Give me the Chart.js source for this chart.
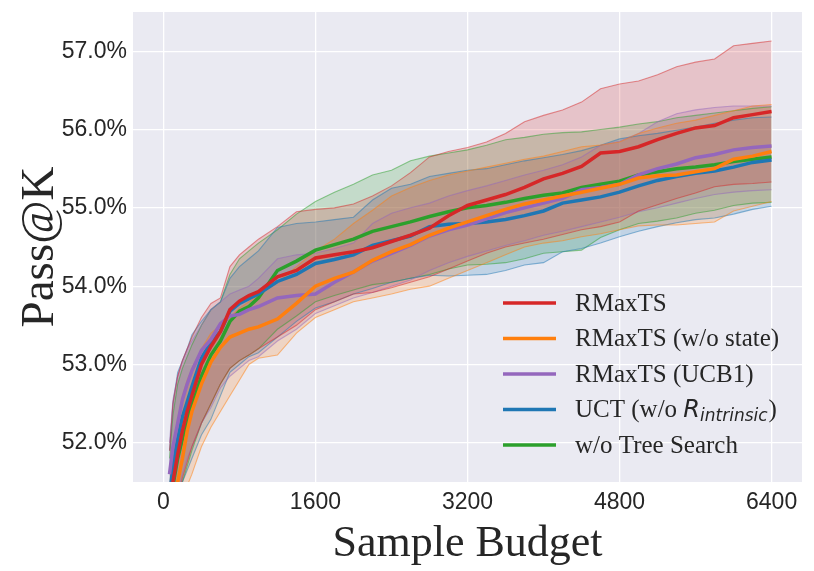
<!DOCTYPE html>
<html>
<head>
<meta charset="utf-8">
<script src="https://cdn.jsdelivr.net/npm/chart.js@4.4.1/dist/chart.umd.min.js"></script>
<style>
  html, body { margin: 0; padding: 0; background: #ffffff; }
  #wrap { width: 814px; height: 571px; }
</style>
</head>
<body>
<div id="wrap"><canvas id="passChart" width="814" height="571"></canvas></div>
<script>
// sample budget at which each value was read
var budget = [64, 100, 150, 200, 250, 300, 400, 500, 600, 700, 800, 900, 1000, 1200, 1400, 1600, 1800, 2000, 2200, 2400,
              2600, 2800, 3000, 3200, 3400, 3600, 3800, 4000, 4200, 4400, 4600, 4800, 5000, 5200, 5400, 5600, 5800, 6000, 6200, 6400];

var xTicks = [0, 1600, 3200, 4800, 6400];
var yTicks = [52, 53, 54, 55, 56, 57];

// RMaxTS
var rmaxMean = [51.2, 51.5, 51.85, 52.15, 52.4, 52.6, 53.0, 53.23, 53.42, 53.7, 53.81, 53.88, 53.93, 54.12, 54.2, 54.36, 54.4, 54.44, 54.49, 54.57,
                54.65, 54.74, 54.9, 55.03, 55.1, 55.17, 55.26, 55.37, 55.44, 55.53, 55.7, 55.72, 55.78, 55.87, 55.95, 56.02, 56.05, 56.15, 56.19, 56.23];
var rmaxHi = [51.9, 52.5, 52.85, 53.05, 53.2, 53.35, 53.6, 53.78, 53.85, 54.25, 54.4, 54.5, 54.6, 54.76, 54.95, 54.98, 55.0, 55.05, 55.15, 55.28,
              55.45, 55.65, 55.72, 55.77, 55.84, 55.95, 56.1, 56.18, 56.25, 56.35, 56.52, 56.58, 56.62, 56.7, 56.8, 56.86, 56.9, 57.07, 57.1, 57.13];
var rmaxLo = [50.5, 50.9, 51.3, 51.55, 51.75, 51.95, 52.25, 52.5, 52.75, 52.95, 53.05, 53.12, 53.2, 53.35, 53.5, 53.7, 53.8, 53.9, 53.92, 53.98,
              54.05, 54.12, 54.22, 54.32, 54.42, 54.5, 54.55, 54.6, 54.66, 54.72, 54.76, 54.82, 54.96, 55.04, 55.12, 55.19, 55.27, 55.3, 55.31, 55.33];

// RMaxTS (w/o state)
var noStateMean = [50.9, 51.2, 51.5, 51.8, 52.15, 52.4, 52.75, 53.03, 53.22, 53.35, 53.4, 53.45, 53.48, 53.58, 53.78, 54.0, 54.1, 54.18, 54.33, 54.44,
                   54.53, 54.65, 54.74, 54.82, 54.9, 54.98, 55.05, 55.1, 55.15, 55.2, 55.25, 55.3, 55.38, 55.41, 55.42, 55.46, 55.5, 55.62, 55.66, 55.72];
var noStateHi = [51.4, 51.9, 52.3, 52.6, 52.8, 52.95, 53.2, 53.4, 53.5, 53.6, 53.72, 53.8, 53.88, 54.05, 54.25, 54.45, 54.6, 54.8, 54.97, 55.15,
                 55.26, 55.35, 55.42, 55.47, 55.52, 55.57, 55.62, 55.66, 55.72, 55.78, 55.8, 55.84, 55.95, 56.02, 56.08, 56.12, 56.18, 56.24, 56.3, 56.32];
var noStateLo = [50.2, 50.6, 50.95, 51.2, 51.45, 51.6, 51.95, 52.2, 52.4, 52.6, 52.8, 53.0, 53.08, 53.12, 53.4, 53.6, 53.7, 53.8, 53.85, 53.9,
                 53.96, 54.0, 54.1, 54.2, 54.3, 54.4, 54.5, 54.55, 54.58, 54.63, 54.67, 54.72, 54.77, 54.78, 54.78, 54.8, 54.82, 54.96, 55.02, 55.08];

// RMaxTS (UCB1)
var ucb1Mean = [51.6, 51.95, 52.25, 52.55, 52.75, 52.92, 53.18, 53.32, 53.52, 53.62, 53.64, 53.7, 53.74, 53.85, 53.88, 53.9, 54.05, 54.18, 54.32, 54.42,
                54.52, 54.64, 54.72, 54.78, 54.86, 54.94, 55.0, 55.06, 55.12, 55.23, 55.26, 55.3, 55.42, 55.5, 55.56, 55.64, 55.68, 55.74, 55.77, 55.79];
var ucb1Hi = [52.0, 52.55, 52.85, 53.05, 53.2, 53.3, 53.5, 53.7, 53.8, 53.9, 53.95, 54.0, 54.1, 54.35, 54.4, 54.42, 54.48, 54.55, 54.8, 54.93,
              55.0, 55.06, 55.15, 55.22, 55.28, 55.35, 55.42, 55.48, 55.55, 55.65, 55.8, 55.85, 55.95, 56.1, 56.2, 56.25, 56.28, 56.3, 56.3, 56.3];
var ucb1Lo = [50.6, 51.0, 51.35, 51.6, 51.8, 51.95, 52.25, 52.45, 52.7, 52.85, 52.95, 53.05, 53.1, 53.3, 53.45, 53.65, 53.75, 53.85, 53.92, 54.0,
              54.08, 54.2, 54.3, 54.38, 54.45, 54.52, 54.58, 54.65, 54.7, 54.76, 54.82, 54.88, 54.95, 55.0, 55.06, 55.12, 55.17, 55.2, 55.22, 55.23];

// UCT (w/o R_intrinsic)
var uctMean = [51.3, 51.7, 52.05, 52.33, 52.52, 52.72, 53.08, 53.28, 53.42, 53.68, 53.78, 53.84, 53.9, 54.06, 54.15, 54.29, 54.34, 54.4, 54.52, 54.58,
               54.64, 54.76, 54.79, 54.8, 54.82, 54.85, 54.9, 54.96, 55.06, 55.1, 55.14, 55.2, 55.28, 55.35, 55.4, 55.44, 55.47, 55.52, 55.58, 55.61];
var uctHi = [51.9, 52.5, 52.9, 53.05, 53.2, 53.38, 53.55, 53.7, 53.8, 54.1, 54.25, 54.35, 54.45, 54.75, 54.8, 54.82, 54.85, 54.88, 55.1, 55.25,
             55.3, 55.4, 55.44, 55.48, 55.5, 55.55, 55.6, 55.64, 55.68, 55.73, 55.8, 55.88, 55.92, 55.95, 55.99, 56.03, 56.08, 56.12, 56.15, 56.16];
var uctLo = [50.7, 51.0, 51.3, 51.5, 51.65, 51.8, 52.1, 52.3, 52.6, 52.9, 53.0, 53.1, 53.15, 53.35, 53.55, 53.72, 53.8, 53.9, 53.97, 54.05,
             54.1, 54.14, 54.13, 54.14, 54.15, 54.2, 54.27, 54.3, 54.44, 54.48, 54.55, 54.63, 54.7, 54.76, 54.81, 54.85, 54.87, 54.92, 54.98, 55.02];

// w/o Tree Search
var noTreeMean = [51.1, 51.45, 51.8, 52.05, 52.28, 52.48, 52.85, 53.12, 53.3, 53.55, 53.68, 53.74, 53.85, 54.2, 54.32, 54.46, 54.53, 54.6, 54.7, 54.76,
                  54.82, 54.89, 54.95, 55.0, 55.03, 55.07, 55.12, 55.16, 55.19, 55.26, 55.3, 55.34, 55.42, 55.46, 55.5, 55.52, 55.55, 55.59, 55.62, 55.65];
var noTreeHi = [51.8, 52.35, 52.75, 52.95, 53.1, 53.25, 53.5, 53.7, 53.8, 54.15, 54.35, 54.45, 54.55, 54.72, 54.92, 55.08, 55.2, 55.3, 55.42, 55.48,
                55.6, 55.66, 55.7, 55.74, 55.8, 55.87, 55.9, 55.94, 55.96, 55.97, 56.0, 56.03, 56.07, 56.1, 56.15, 56.18, 56.21, 56.24, 56.27, 56.29];
var noTreeLo = [50.4, 50.8, 51.2, 51.5, 51.7, 51.9, 52.25, 52.5, 52.75, 52.95, 53.05, 53.12, 53.2, 53.45, 53.62, 53.8, 53.88, 53.95, 54.02, 54.05,
                54.1, 54.15, 54.22, 54.27, 54.28, 54.3, 54.35, 54.42, 54.44, 54.46, 54.62, 54.72, 54.8, 54.83, 54.87, 54.93, 54.97, 55.03, 55.06, 55.07];

var series = [
    { name: 'RMaxTS', color: '214,39,40', mean: rmaxMean, hi: rmaxHi, lo: rmaxLo },
    { name: 'RMaxTS (w/o state)', color: '255,127,14', mean: noStateMean, hi: noStateHi, lo: noStateLo },
    { name: 'RMaxTS (UCB1)', color: '148,103,189', mean: ucb1Mean, hi: ucb1Hi, lo: ucb1Lo },
    { name: 'UCT', color: '31,119,180', mean: uctMean, hi: uctHi, lo: uctLo },
    { name: 'w/o Tree Search', color: '44,160,44', mean: noTreeMean, hi: noTreeHi, lo: noTreeLo }
];

function pts(vals) {
    return budget.map(function (b, i) { return { x: b, y: vals[i] }; });
}

var datasets = [];
// mean lines first so they sit on top (red topmost)
series.forEach(function (s, k) {
    datasets.push({
        label: s.name, data: pts(s.mean), borderColor: 'rgb(' + s.color + ')', borderWidth: 3.5,
        pointRadius: 0, fill: false, order: k
    });
});
series.forEach(function (s, k) {
    var loIdx = datasets.length;
    datasets.push({
        data: pts(s.lo), borderColor: 'rgba(' + s.color + ',0.5)', borderWidth: 1.1,
        pointRadius: 0, fill: false, order: 10 + k
    });
    datasets.push({
        data: pts(s.hi), borderColor: 'rgba(' + s.color + ',0.5)', borderWidth: 1.1,
        backgroundColor: 'rgba(' + s.color + ',0.2)',
        pointRadius: 0, fill: loIdx, order: 10 + k
    });
});

var plotBg = {
    id: 'plotBg',
    beforeDraw: function (chart) {
        var a = chart.chartArea, c = chart.ctx;
        c.save();
        c.fillStyle = '#eaeaf2';
        c.fillRect(a.left, a.top, a.right - a.left, a.bottom - a.top);
        c.restore();
    }
};

// legend with the math subscript, drawn by hand
var mathLegend = {
    id: 'mathLegend',
    afterDraw: function (chart) {
        var c = chart.ctx, a = chart.chartArea;
        var x0 = a.left + 370, y0 = a.top + 291, gap = 35.5;
        c.save();
        c.textBaseline = 'middle';
        c.fillStyle = '#262626';
        series.forEach(function (s, i) {
            var y = y0 + i * gap;
            c.strokeStyle = 'rgb(' + s.color + ')';
            c.lineWidth = 3.5;
            c.beginPath();
            c.moveTo(x0, y);
            c.lineTo(x0 + 53, y);
            c.stroke();
            var tx = x0 + 72;
            c.font = '25px "Liberation Serif"';
            if (s.name === 'UCT') {
                var t1 = 'UCT (w/o ';
                c.fillText(t1, tx, y + 1);
                tx += c.measureText(t1).width;
                c.font = 'italic 24px "DejaVu Sans"';
                c.fillText('R', tx, y + 1);
                tx += c.measureText('R').width;
                c.font = 'italic 17px "DejaVu Sans"';
                c.fillText('intrinsic', tx, y + 7);
                tx += c.measureText('intrinsic').width + 1;
                c.font = '25px "Liberation Serif"';
                c.fillText(')', tx, y + 1);
            } else {
                c.fillText(s.name, tx, y + 1);
            }
        });
        c.restore();
    }
};

new Chart(document.getElementById('passChart').getContext('2d'), {
    type: 'line',
    data: { datasets: datasets },
    options: {
        responsive: false,
        animation: false,
        devicePixelRatio: 1,
        layout: { padding: { left: 0, right: 12, top: 12, bottom: 0 } },
        plugins: {
            legend: { display: false },
            tooltip: { enabled: false },
            filler: { drawTime: 'beforeDatasetsDraw' }
        },
        scales: {
            x: {
                type: 'linear', min: -320, max: 6720,
                afterBuildTicks: function (s) { s.ticks = xTicks.map(function (v) { return { value: v }; }); },
                afterFit: function (s) { s.height = 89; s.paddingLeft = 0; s.paddingRight = 0; },
                grid: { color: '#ffffff', lineWidth: 1.3, drawTicks: false },
                border: { display: false },
                ticks: { color: '#262626', padding: 7, maxRotation: 0, font: { family: 'Liberation Sans', size: 23 },
                         callback: function (v) { return String(v); } },
                title: { display: true, text: 'Sample Budget', color: '#262626',
                         font: { family: 'Liberation Serif', size: 44, lineHeight: 1.2 }, padding: { top: 1, bottom: 0 } }
            },
            y: {
                type: 'linear', min: 51.5, max: 57.5,
                afterBuildTicks: function (s) { s.ticks = yTicks.map(function (v) { return { value: v }; }); },
                afterFit: function (s) { s.width = 133; s.paddingTop = 0; s.paddingBottom = 0; },
                grid: { color: '#ffffff', lineWidth: 1.3, drawTicks: false },
                border: { display: false },
                ticks: { color: '#262626', padding: 6, font: { family: 'Liberation Sans', size: 23 },
                         callback: function (v) { return v.toFixed(1) + '%'; } },
                title: { display: true, text: 'Pass@K', color: '#262626',
                         font: { family: 'Liberation Serif', size: 47, lineHeight: 1.2 }, padding: { top: 12, bottom: 0 } }
            }
        }
    },
    plugins: [plotBg, mathLegend]
});
</script>
</body>
</html>
